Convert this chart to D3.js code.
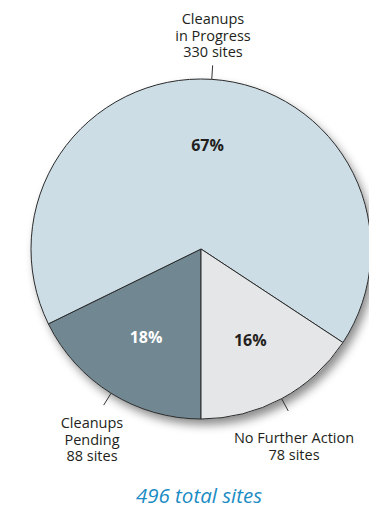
<!DOCTYPE html>
<html>
<head>
<meta charset="utf-8">
<script src="https://cdn.jsdelivr.net/npm/d3@7"></script>
<style>
  body { margin: 0; background: #fff; }
  svg { display: block; }
</style>
</head>
<body>
<div id="wrapper"></div>
<script>
// Dados (ordem horária a partir da base da pizza)
const categories = ["Cleanups Pending", "Cleanups in Progress", "No Further Action"];
const labelLines = [["Cleanups", "Pending"], ["Cleanups", "in Progress"], ["No Further Action"]];
const sites = [88, 330, 78];
const totalLabel = "496 total sites";

function draw() {
  const width = 369, height = 508;
  const cx = 201, cy = 249, radius = 170;
  const total = d3.sum(sites);

  const svg = d3.select("#wrapper").append("svg")
    .attr("width", width)
    .attr("height", height);

  // sombra suave
  const filter = svg.append("defs").append("filter")
    .attr("id", "shadow")
    .attr("x", "-20%").attr("y", "-20%")
    .attr("width", "140%").attr("height", "140%");
  filter.append("feDropShadow")
    .attr("dx", 4).attr("dy", 6)
    .attr("stdDeviation", 5)
    .attr("flood-color", "#000")
    .attr("flood-opacity", 0.45);

  const color = d3.scaleOrdinal()
    .domain(categories)
    .range(["#718892", "#cddde6", "#e5e6e8"]);
  const textColor = d3.scaleOrdinal()
    .domain(categories)
    .range(["#ffffff", "#231f20", "#231f20"]);

  const data = categories.map((c, i) => ({ category: c, lines: labelLines[i], value: sites[i] }));
  const pie = d3.pie().sort(null).value(d => d.value)
    .startAngle(Math.PI).endAngle(3 * Math.PI);
  const arcs = pie(data);

  const arc = d3.arc().innerRadius(0).outerRadius(radius);
  const labelArc = d3.arc().innerRadius(104).outerRadius(104);

  const g = svg.append("g").attr("transform", `translate(${cx},${cy})`);

  g.append("circle")
    .attr("r", radius)
    .attr("fill", "#cddde6")
    .attr("filter", "url(#shadow)");

  g.selectAll("path.slice")
    .data(arcs)
    .join("path")
      .attr("class", "slice")
      .attr("d", arc)
      .attr("fill", d => color(d.data.category))
      .attr("stroke", "#2b2b2b")
      .attr("stroke-width", 1)
      .attr("stroke-linejoin", "round");

  const pct = d3.format(".0%");
  g.selectAll("text.pct")
    .data(arcs)
    .join("text")
      .attr("class", "pct")
      .attr("transform", d => `translate(${labelArc.centroid(d)})`)
      .attr("text-anchor", "middle")
      .attr("dy", "0.35em")
      .attr("font-family", "'Open Sans', sans-serif")
      .attr("font-weight", "bold")
      .attr("font-size", 16)
      .attr("fill", d => textColor(d.data.category))
      .text(d => pct(d.value / total));

  // marcas de chamada
  const mid = d => (d.startAngle + d.endAngle) / 2;
  g.selectAll("line.tick")
    .data(arcs)
    .join("line")
      .attr("class", "tick")
      .attr("x1", d => Math.sin(mid(d)) * radius)
      .attr("y1", d => -Math.cos(mid(d)) * radius)
      .attr("x2", d => Math.sin(mid(d)) * (radius + 14))
      .attr("y2", d => -Math.cos(mid(d)) * (radius + 14))
      .attr("stroke", "#333")
      .attr("stroke-width", 1);

  // rótulos externos
  const labelPos = {
    "Cleanups Pending": [92, 428],
    "Cleanups in Progress": [213, 24],
    "No Further Action": [294, 443]
  };
  const lineH = 16.5;
  const labels = svg.selectAll("text.label")
    .data(arcs)
    .join("text")
      .attr("class", "label")
      .attr("text-anchor", "middle")
      .attr("font-family", "'Open Sans', sans-serif")
      .attr("font-size", 14.5)
      .attr("fill", "#231f20");
  labels.each(function(d) {
    const t = d3.select(this);
    const p = labelPos[d.data.category];
    const lines = d.data.lines.concat([d.data.value + " sites"]);
    lines.forEach((ln, j) => {
      t.append("tspan")
        .attr("x", p[0])
        .attr("y", p[1] + j * lineH)
        .text(ln);
    });
  });

  svg.append("text")
    .attr("x", 199)
    .attr("y", 503)
    .attr("text-anchor", "middle")
    .attr("font-family", "'Open Sans', sans-serif")
    .attr("font-style", "italic")
    .attr("font-size", 20.5)
    .attr("fill", "#1b8cc4")
    .text(totalLabel);
}
draw();
</script>
</body>
</html>
